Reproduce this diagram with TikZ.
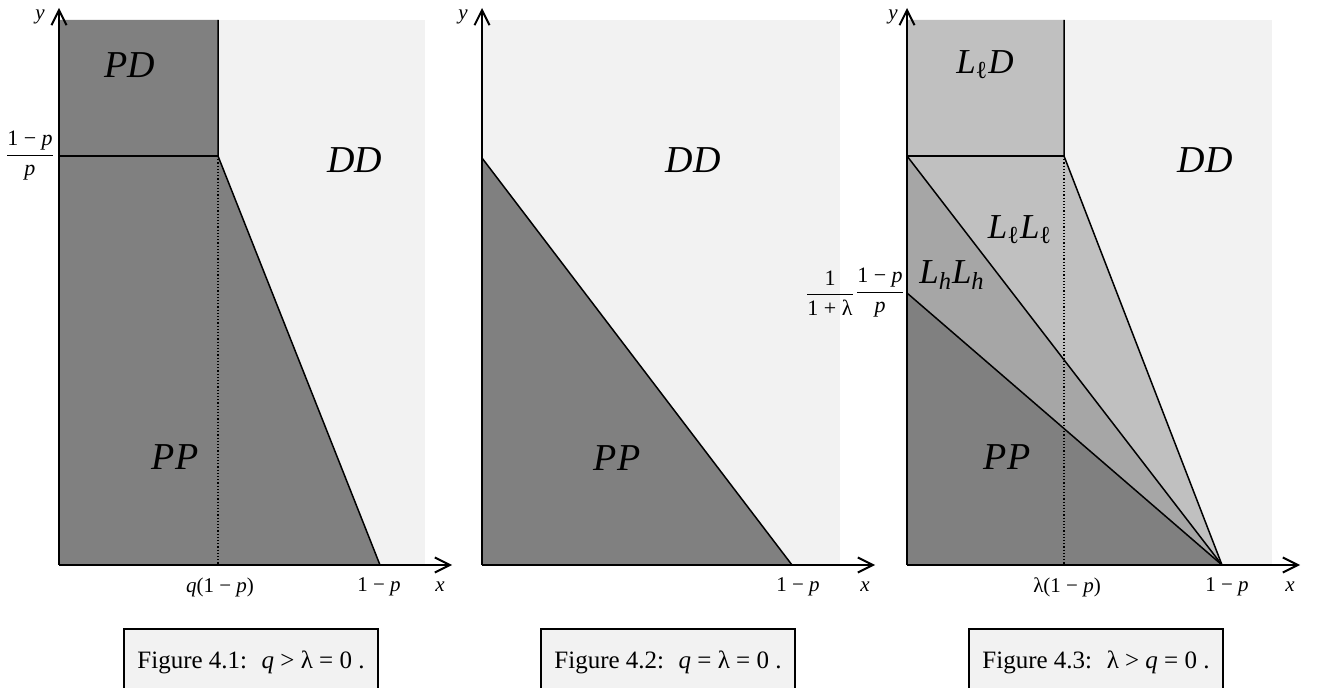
\documentclass[tikz,border=0pt]{standalone}
\usepackage{fontspec}
\setmainfont{Liberation Serif}
\usepackage{xcolor}
\usetikzlibrary{arrows.meta}

\definecolor{regdark}{HTML}{808080}
\definecolor{regmid}{HTML}{A6A6A6}
\definecolor{reglight}{HTML}{C0C0C0}
\definecolor{bgpale}{HTML}{F2F2F2}

\newcommand{\mv}[1]{\textit{#1}}
\newcommand{\Ll}{\mv{L}\textsubscript{ℓ}}
\newcommand{\Lh}{\mv{L}\textsubscript{\mv{h}}}
\newcommand{\fr}[2]{$\displaystyle\frac{\hbox{#1}}{\hbox{#2}}$}

\begin{document}
\begin{tikzpicture}[
    x=0.5pt, y=-0.5pt,
    axis/.style={line width=1pt, -{Straight Barb[length=7.5pt, width=7.5pt]}},
    bound/.style={line width=0.75pt},
    dotl/.style={densely dotted, line width=0.6pt},
    reg/.style={inner sep=0pt, font=\fontsize{19}{22}\selectfont},
    lreg/.style={inner sep=0pt, font=\fontsize{17.5}{20}\selectfont},
    axlbl/.style={inner sep=0pt, font=\fontsize{10.5}{12}\selectfont},
    frlbl/.style={inner sep=0pt, font=\fontsize{11}{13}\selectfont},
    capbox/.style={draw, fill=bgpale, line width=0.6pt, minimum width=127pt, minimum height=33pt, font=\fontsize{12.5}{15}\selectfont}
]
\useasboundingbox (0,0) rectangle (1322,688);

% ---- Figure 4.1
\fill[bgpale] (59,20) rectangle (425,565);
\coordinate (s1) at (59,20);
\coordinate (t1) at (218,20);
\coordinate (a1) at (59,156);
\coordinate (b1) at (218,156);
\coordinate (c1) at (380,565);
\coordinate (q1) at (218,565);
\coordinate (o1) at (59,565);
\fill[regdark] (s1) -- (t1) -- (b1) -- (c1) -- (o1) -- cycle;
\draw[bound] (t1) -- (b1) -- (c1);
\draw[bound] (a1) -- (b1);
\draw[dotl] (b1) -- (q1);
\draw[axis] (o1) -- (59,8);
\draw[axis] (o1) -- (452,565);

\node[reg] (pd1) at (130,65) {\mv{PD}};
\node[reg] (dd1) at (355,160) {\mv{DD}};
\node[reg] (pp1) at (175,457) {\mv{PP}};
\node[axlbl] (y1) at (40,17) {\mv{y}};
\node[frlbl] (fy1) at (30,156) {\fr{1 − \mv{p}}{\mv{p}}};
\node[axlbl] (qx1) at (220,587) {\mv{q}(1 − \mv{p})};
\node[axlbl] (px1) at (379,587) {1 − \mv{p}};
\node[axlbl] (x1) at (440,587) {\mv{x}};
\node[capbox] (cap1) at (251,662) {Figure 4.1: \ \mv{q} > λ = 0 .};

% ---- Figure 4.2
\fill[bgpale] (482,20) rectangle (840,565);
\coordinate (a2) at (482,158);
\coordinate (c2) at (792,565);
\coordinate (o2) at (482,565);
\fill[regdark] (a2) -- (c2) -- (o2) -- cycle;
\draw[bound] (a2) -- (c2);
\draw[axis] (o2) -- (482,8);
\draw[axis] (o2) -- (875,565);

\node[reg] (dd2) at (693,160) {\mv{DD}};
\node[reg] (pp2) at (617,458) {\mv{PP}};
\node[axlbl] (y2) at (463,17) {\mv{y}};
\node[axlbl] (px2) at (798,587) {1 − \mv{p}};
\node[axlbl] (x2) at (865,587) {\mv{x}};
\node[capbox] (cap2) at (668,662) {Figure 4.2: \ \mv{q} = λ = 0 .};

% ---- Figure 4.3
\fill[bgpale] (907,20) rectangle (1272,565);
\coordinate (s3) at (907,20);
\coordinate (t3) at (1064,20);
\coordinate (a3) at (907,156);
\coordinate (b3) at (1064,156);
\coordinate (m3) at (907,293);
\coordinate (c3) at (1222,565);
\coordinate (q3) at (1064,565);
\coordinate (o3) at (907,565);
\fill[reglight] (s3) -- (t3) -- (b3) -- (c3) -- (a3) -- cycle;
\fill[regmid] (a3) -- (c3) -- (m3) -- cycle;
\fill[regdark] (m3) -- (c3) -- (o3) -- cycle;
\draw[bound] (t3) -- (b3) -- (c3);
\draw[bound] (a3) -- (b3);
\draw[bound] (a3) -- (c3);
\draw[bound] (m3) -- (c3);
\draw[dotl] (b3) -- (q3);
\draw[axis] (o3) -- (907,8);
\draw[axis] (o3) -- (1300,565);

\node[lreg] (ld3) at (985,65) {\Ll\mv{D}};
\node[reg] (dd3) at (1205,160) {\mv{DD}};
\node[lreg] (ll3) at (1020,230) {\Ll\Ll};
\node[lreg] (hh3) at (952,275) {\Lh\Lh};
\node[reg] (pp3) at (1007,457) {\mv{PP}};
\node[axlbl] (y3) at (893,17) {\mv{y}};
\node[frlbl] (fl3) at (830,293) {\fr{1}{1 + λ}};
\node[frlbl] (fy3) at (880,293) {\fr{1 − \mv{p}}{\mv{p}}};
\node[axlbl] (lx3) at (1067,587) {λ(1 − \mv{p})};
\node[axlbl] (px3) at (1227,587) {1 − \mv{p}};
\node[axlbl] (x3) at (1290,587) {\mv{x}};
\node[capbox] (cap3) at (1096,662) {Figure 4.3: \ λ > \mv{q} = 0 .};

\end{tikzpicture}
\end{document}
